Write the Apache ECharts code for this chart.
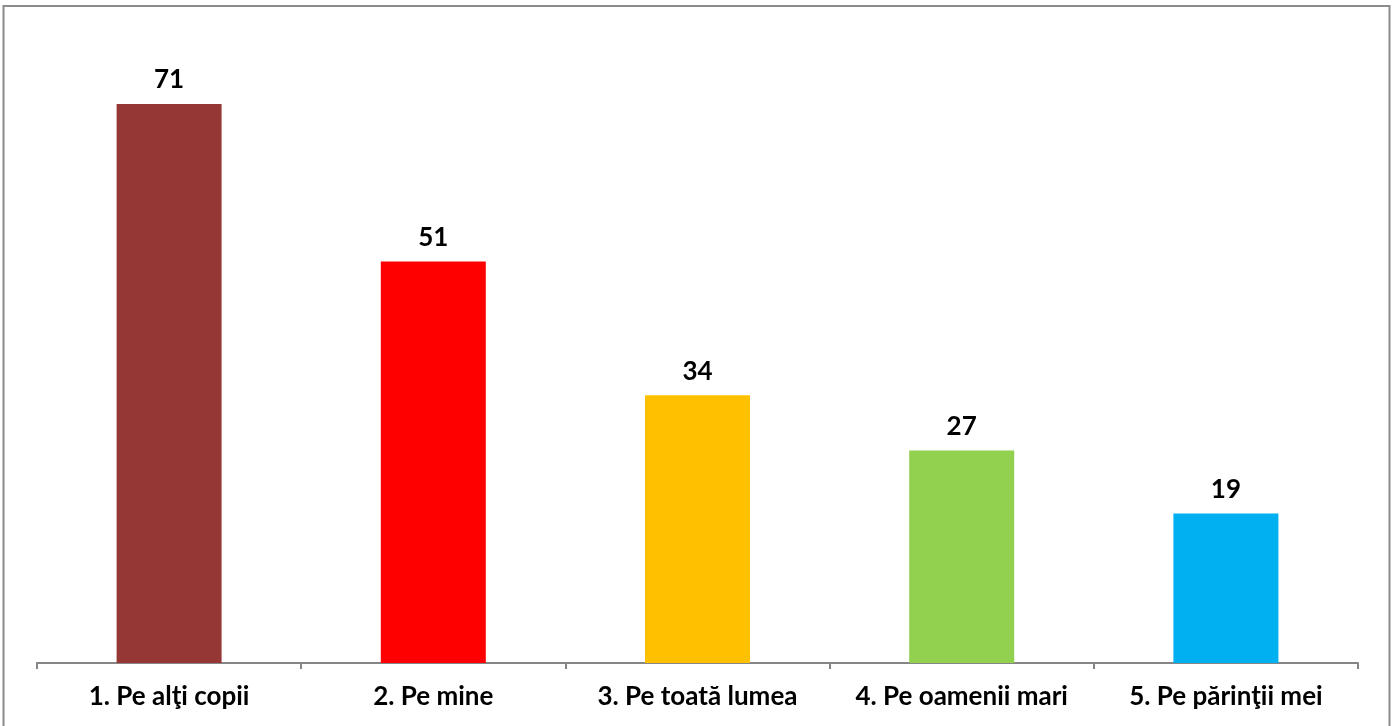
<!DOCTYPE html>
<html><head><meta charset="utf-8">
<script src="https://cdn.jsdelivr.net/npm/echarts@6/dist/echarts.min.js"></script>
<style>html,body{margin:0;padding:0;background:#fff}#c{width:1394px;height:726px}</style>
</head><body><div id="c"></div>
<script>
const categories = ['1. Pe alţi copii', '2. Pe mine', '3. Pe toată lumea', '4. Pe oamenii mari', '5. Pe părinţii mei'];
const values = [71, 51, 34, 27, 19];
const colors = ['#953735', '#FF0000', '#FFC000', '#92D050', '#00B0F0'];

const chart = echarts.init(document.getElementById('c'));
chart.setOption({
  animation: false,
  graphic: [{
    type: 'rect', shape: {x: 3.5, y: 6, width: 1386, height: 740},
    style: {fill: 'none', stroke: '#8c8c8c', lineWidth: 2}, silent: true
  }],
  grid: {left: 37, right: 36, top: 663 - 80 * 7.873, bottom: 63},
  xAxis: {
    type: 'category', data: categories,
    axisLine: {lineStyle: {color: '#868686', width: 2}},
    axisTick: {show: true, interval: 0, length: 6, lineStyle: {color: '#868686', width: 2}},
    axisLabel: {interval: 0, hideOverlap: false, color: '#000', fontFamily: 'Lato', fontWeight: 'bold', fontSize: 26, margin: 21}
  },
  yAxis: {type: 'value', min: 0, max: 80, show: false, splitLine: {show: false}},
  series: [{
    type: 'bar', barWidth: 105,
    data: values.map((v, i) => ({value: v, itemStyle: {color: colors[i]}})),
    label: {show: true, position: 'top', distance: 11, color: '#000', fontFamily: 'Lato', fontWeight: 'bold', fontSize: 26}
  }]
});
</script></body></html>
